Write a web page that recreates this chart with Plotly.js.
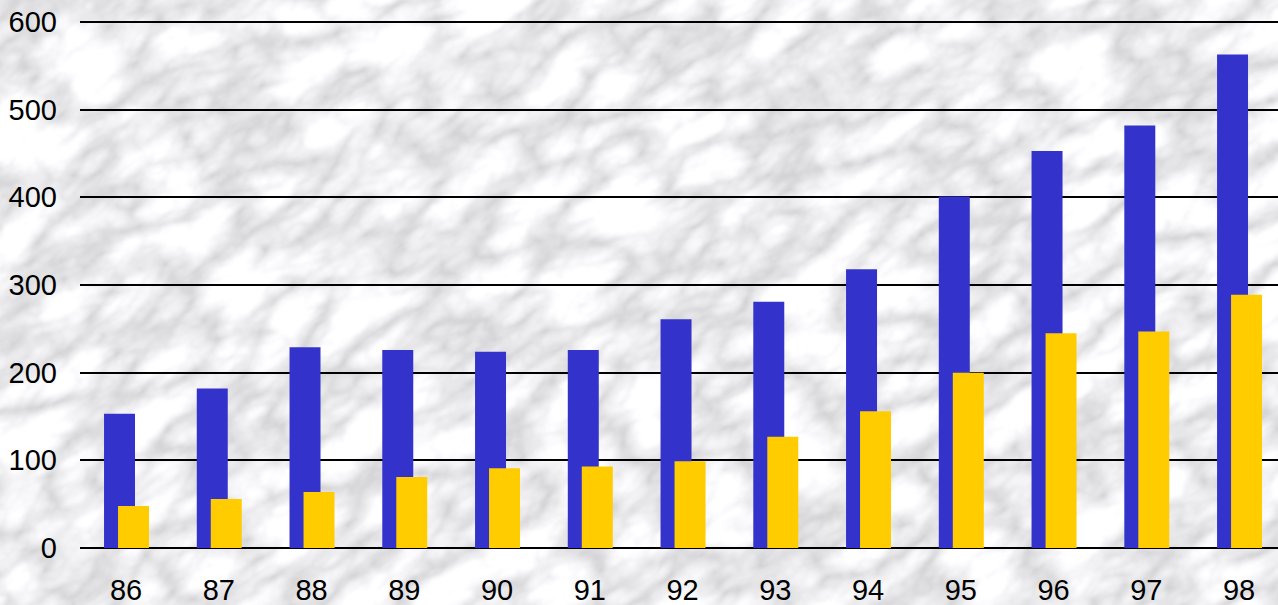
<!DOCTYPE html>
<html>
<head>
<meta charset="utf-8">
<script src="https://cdn.plot.ly/plotly-3.0.1.min.js"></script>
<style>
  html, body { margin: 0; padding: 0; width: 1278px; height: 605px; overflow: hidden; }
  #chart { width: 1278px; height: 605px; background-color: #dedee0; }
</style>
</head>
<body>
<div id="chart"></div>
<script>
// ---- data ----
const years = ["86", "87", "88", "89", "90", "91", "92", "93", "94", "95", "96", "97", "98"];
const blueValues = [153, 182, 229, 226, 224, 226, 261, 281, 318, 401, 453, 482, 563];
const yellowValues = [48, 56, 64, 81, 91, 93, 99, 127, 156, 200, 245, 247, 289];
const yTickValues = [0, 100, 200, 300, 400, 500, 600];

// ---- marble-like background texture (decorative) ----
const marbleSvg =
  '<svg xmlns="http://www.w3.org/2000/svg" width="1278" height="605">' +
  '<filter id="m" x="0" y="0" width="100%" height="100%">' +
  '<feTurbulence type="turbulence" baseFrequency="0.011 0.022" numOctaves="5" seed="3"/>' +
  '<feColorMatrix type="matrix" values="' +
  '0.75 0 0 0 0.62 ' +
  '0.75 0 0 0 0.62 ' +
  '0.75 0 0 0 0.64 ' +
  '0 0 0 0 1"/>' +
  '<feGaussianBlur stdDeviation="1.2"/>' +
  '</filter>' +
  '<g transform="rotate(-35 639 302)">' +
  '<rect x="-600" y="-700" width="2500" height="2000" filter="url(#m)"/>' +
  '</g></svg>';
document.getElementById('chart').style.backgroundImage =
  'url("data:image/svg+xml;charset=utf-8,' + encodeURIComponent(marbleSvg) + '")';

const barWidth = 0.334;

const traces = [
  {
    type: 'bar',
    x: years,
    y: blueValues,
    width: barWidth,
    offset: -0.237,
    marker: { color: '#3333cc', line: { width: 0 } },
    hoverinfo: 'x+y',
    name: 'A'
  },
  {
    type: 'bar',
    x: years,
    y: yellowValues,
    width: barWidth,
    offset: -0.086,
    marker: { color: '#ffcc00', line: { width: 0 } },
    hoverinfo: 'x+y',
    name: 'B'
  }
];

const layout = {
  width: 1278,
  height: 605,
  margin: { l: 80, r: 0, t: 10, b: 57, pad: 0 },
  paper_bgcolor: 'rgba(0,0,0,0)',
  plot_bgcolor: 'rgba(0,0,0,0)',
  barmode: 'overlay',
  showlegend: false,
  font: { family: '"Liberation Sans", Arial, sans-serif', size: 29, color: '#000000' },
  xaxis: {
    type: 'category',
    range: [-0.496, 12.42],
    showgrid: false,
    zeroline: false,
    showline: false,
    ticks: '',
    ticklabelstandoff: 22,
    tickfont: { size: 29, color: '#000000' },
    fixedrange: true
  },
  yaxis: {
    range: [0, 613.7],
    tickvals: yTickValues,
    ticktext: yTickValues.map(String),
    showgrid: true,
    gridcolor: '#000000',
    gridwidth: 2,
    zeroline: true,
    zerolinecolor: '#000000',
    zerolinewidth: 2,
    showline: false,
    ticks: '',
    ticklabelstandoff: 22,
    tickfont: { size: 29, color: '#000000' },
    fixedrange: true
  }
};

Plotly.newPlot('chart', traces, layout, { displayModeBar: false, staticPlot: true });
</script>
</body>
</html>
